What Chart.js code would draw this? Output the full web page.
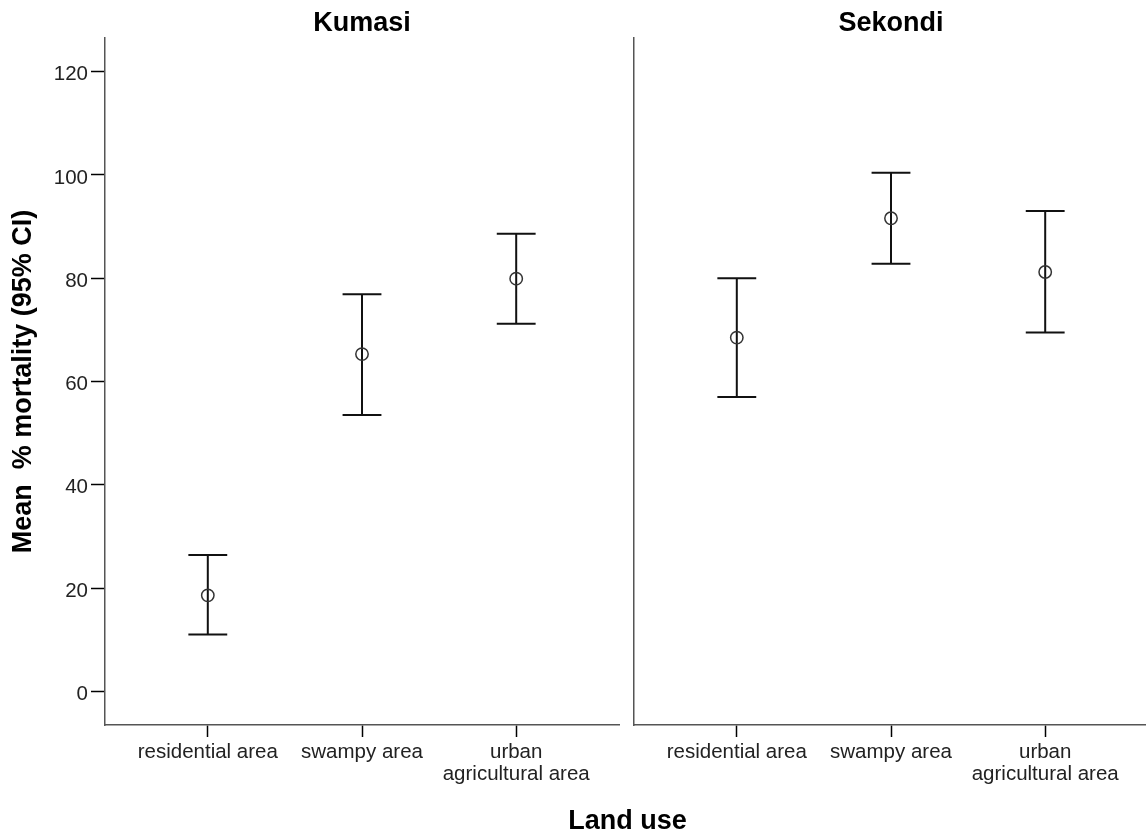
<!DOCTYPE html>
<html>
<head>
<meta charset="utf-8">
<script src="https://cdn.jsdelivr.net/npm/chart.js@4.4.1/dist/chart.umd.min.js"></script>
<style>
  html, body { margin: 0; padding: 0; background: #fff; overflow: hidden; }
  #wrap { position: relative; width: 1146px; height: 839px; overflow: hidden; }
  canvas { position: absolute; top: 0; }
  #xtitle { position: absolute; left: 0; width: 1255px; top: 807px; text-align: center;
            font: bold 27px "Liberation Sans", Arial, sans-serif; line-height: 27px; color: #000; }
</style>
</head>
<body>
<div id="wrap">
  <canvas id="left" width="620" height="839" style="left:0px;width:620px;height:839px;"></canvas>
  <canvas id="right" width="528" height="839" style="left:620px;width:528px;height:839px;"></canvas>
  <div id="xtitle">Land use</div>
</div>
<script>
// ---- data ----
const panels = ['Kumasi', 'Sekondi'];
const categories = ['residential area', 'swampy area', 'urban agricultural area'];
const tickLabels = [['residential area'], ['swampy area'], ['urban', 'agricultural area']];
const yTicks = [0, 20, 40, 60, 80, 100, 120];
const yTitle = 'Mean  % mortality (95% CI)';

const kumasiMean  = [18.6, 65.3, 79.9];
const kumasiLower = [11.0, 53.5, 71.2];
const kumasiUpper = [26.4, 76.9, 88.6];

const sekondiMean  = [68.5, 91.6, 81.2];
const sekondiLower = [57.0, 82.8, 69.5];
const sekondiUpper = [80.0, 100.4, 93.0];

// ---- chart building ----
const CAP = 0.126;
const TICK_FONT = { family: '"Liberation Sans", Arial, sans-serif', size: 20.5, lineHeight: 1.1 };
const BOLD_FONT = { family: '"Liberation Sans", Arial, sans-serif', size: 27, weight: 'bold', lineHeight: 1 };

function ciData(mean, lower, upper) {
  const d = [];
  mean.forEach((m, i) => {
    d.push({ x: i, y: lower[i] }, { x: i, y: upper[i] }, { x: i, y: null });
    d.push({ x: i - CAP, y: upper[i] }, { x: i + CAP, y: upper[i] }, { x: i, y: null });
    d.push({ x: i - CAP, y: lower[i] }, { x: i + CAP, y: lower[i] }, { x: i, y: null });
  });
  return d;
}

function makeChart(id, title, mean, lower, upper, showY, rightPad) {
  return new Chart(document.getElementById(id), {
    type: 'scatter',
    data: {
      datasets: [
        {
          label: '95% CI',
          data: ciData(mean, lower, upper),
          showLine: true,
          spanGaps: false,
          borderColor: '#111',
          borderWidth: 2,
          borderCapStyle: 'butt',
          pointRadius: 0,
          pointHoverRadius: 0,
          order: 2
        },
        {
          label: 'Mean',
          data: mean.map((m, i) => ({ x: i, y: m })),
          showLine: false,
          pointStyle: 'circle',
          pointRadius: 6.2,
          pointBorderWidth: 1.5,
          pointBorderColor: '#333',
          pointBackgroundColor: 'rgba(0,0,0,0)',
          order: 1
        }
      ]
    },
    options: {
      animation: false,
      responsive: false,
      devicePixelRatio: 1,
      events: [],
      layout: { autoPadding: false, padding: { top: 0, left: 0, right: rightPad, bottom: 0 } },
      plugins: {
        legend: { display: false },
        tooltip: { enabled: false },
        title: {
          display: true,
          text: title,
          fullSize: false,
          color: '#000',
          font: BOLD_FONT,
          padding: { top: 10.5, bottom: 0.5 }
        }
      },
      scales: {
        x: {
          type: 'linear',
          min: -2 / 3,
          max: 8 / 3,
          afterBuildTicks: s => { s.ticks = categories.map((c, i) => ({ value: i })); },
          afterFit: s => { s.height = 114; },
          ticks: {
            callback: (v, i) => tickLabels[i],
            font: TICK_FONT,
            color: '#222',
            padding: 4,
            maxRotation: 0,
            autoSkip: false
          },
          grid: { drawOnChartArea: false, drawTicks: true, tickLength: 12, tickColor: '#000', tickWidth: 1.5 },
          border: { display: true, color: '#555', width: 1.5 }
        },
        y: {
          type: 'linear',
          min: -6.5,
          max: 126.5,
          afterBuildTicks: s => { s.ticks = yTicks.map(v => ({ value: v })); },
          afterFit: s => { s.width = showY ? 105 : 14; },
          ticks: {
            display: showY,
            font: TICK_FONT,
            color: '#222',
            padding: 3,
            labelOffset: 3
          },
          grid: { drawOnChartArea: false, drawTicks: showY, tickLength: 14, tickColor: '#000', tickWidth: 1.5 },
          border: { display: true, color: '#555', width: 1.5 },
          title: {
            display: showY,
            text: yTitle,
            color: '#000',
            font: BOLD_FONT,
            padding: { top: 10.3, bottom: 0 }
          }
        }
      }
    }
  });
}

makeChart('left', panels[0], kumasiMean, kumasiLower, kumasiUpper, true, 1);
makeChart('right', panels[1], sekondiMean, sekondiLower, sekondiUpper, false, 0);
</script>
</body>
</html>
